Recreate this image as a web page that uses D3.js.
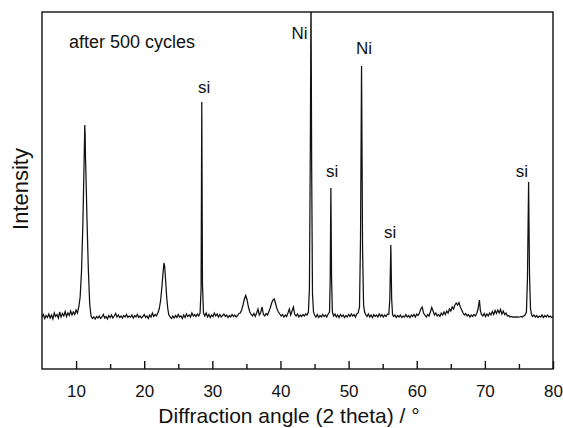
<!DOCTYPE html>
<html>
<head>
<meta charset="utf-8">
<script src="https://cdn.jsdelivr.net/npm/d3@7"></script>
<style>
  body { margin: 0; background: #fff; }
  text { font-family: "Liberation Sans", Arial, Helvetica, sans-serif; fill: #111; }
</style>
</head>
<body>
<div id="chart"></div>
<script>
// XRD pattern: [2 theta in degrees, counts]
const pattern = [
  [5.0,520],[5.2,545],[5.4,505],[5.6,535],[5.8,515],[6.0,550],[6.2,510],[6.4,540],[6.6,500],[6.8,560],
  [7.0,525],[7.2,545],[7.4,510],[7.6,570],[7.8,520],[8.0,555],[8.2,530],[8.4,575],[8.6,525],[8.8,560],
  [9.0,535],[9.2,580],[9.4,540],[9.6,570],[9.8,545],[10.0,590],[10.2,560],
  [10.4,620],[10.6,720],[10.8,980],[11.0,1450],[11.1,1800],[11.2,2150],[11.28,2440],[11.33,2350],
  [11.38,2120],[11.45,1950],[11.6,1500],[11.8,1000],[12.0,650],[12.2,530],
  [12.4,505],[12.6,520],[12.8,500],[13.0,525],[13.2,510],[13.4,530],[13.6,505],[13.8,520],[14.0,545],
  [14.2,510],[14.4,525],[14.6,500],[14.8,535],[15.0,515],[15.2,540],[15.4,510],[15.6,530],[15.8,555],
  [16.0,520],[16.2,540],[16.4,515],[16.6,530],[16.8,510],[17.0,535],[17.2,520],[17.4,545],[17.6,515],
  [17.8,530],[18.0,520],[18.2,540],[18.4,510],[18.6,535],[18.8,520],[19.0,545],[19.2,515],[19.4,530],
  [19.6,510],[19.8,525],[20.0,545],[20.2,515],[20.4,530],[20.6,505],[20.8,540],[21.0,520],[21.2,560],
  [21.4,525],[21.6,545],[21.8,530],
  [22.0,560],[22.2,600],[22.4,680],[22.6,820],[22.75,950],[22.9,1060],[23.0,1030],[23.15,880],
  [23.3,720],[23.45,610],[23.6,545],
  [23.8,520],[24.0,505],[24.2,530],[24.4,510],[24.6,535],[24.8,515],[25.0,545],[25.2,520],[25.4,530],
  [25.6,505],[25.8,540],[26.0,515],[26.2,550],[26.4,525],[26.6,540],[26.8,520],[27.0,560],[27.2,530],
  [27.4,545],[27.6,525],[27.8,550],[28.0,530],[28.2,560],
  [28.35,800],[28.45,2670],[28.55,850],[28.7,560],
  [28.9,530],[29.1,560],[29.3,520],[29.5,545],[29.7,515],[29.9,540],[30.1,525],[30.3,560],[30.5,530],
  [30.7,550],[30.9,520],[31.1,545],[31.3,520],[31.5,535],[31.7,550],[31.9,525],[32.1,540],[32.3,515],
  [32.5,535],[32.7,520],[32.9,545],[33.1,525],[33.3,540],[33.5,520],[33.7,535],[33.9,555],
  [34.1,560],[34.3,590],[34.5,640],[34.7,700],[34.9,735],[35.1,690],[35.3,620],[35.5,570],[35.7,545],
  [35.9,530],[36.1,555],[36.3,525],[36.5,560],[36.7,600],[36.9,540],[37.1,565],[37.3,620],[37.5,545],
  [37.7,530],[37.9,555],[38.1,540],[38.3,575],[38.5,610],[38.7,660],[38.9,690],[39.1,700],[39.3,650],
  [39.5,600],[39.7,570],[39.9,550],[40.1,530],[40.3,545],[40.5,520],[40.7,540],[40.9,525],[41.1,560],
  [41.3,600],[41.5,540],[41.7,580],[41.9,620],[42.1,545],[42.3,530],[42.5,550],[42.7,520],[42.9,540],
  [43.1,525],[43.3,545],[43.5,530],[43.7,550],[43.9,540],[44.1,570],
  [44.25,800],[44.4,2400],[44.48,3800],[44.58,2000],[44.7,750],[44.85,570],
  [45.0,540],[45.2,520],[45.4,545],[45.6,515],[45.8,535],[46.0,520],[46.2,545],[46.4,525],[46.6,540],
  [46.8,520],[47.0,550],[47.2,570],
  [47.3,900],[47.4,1810],[47.5,900],[47.62,570],
  [47.8,530],[48.0,550],[48.2,520],[48.4,540],[48.6,515],[48.8,545],[49.0,525],[49.2,540],[49.4,515],
  [49.6,535],[49.8,520],[50.0,545],[50.2,525],[50.4,550],[50.6,530],[50.8,545],[51.0,520],[51.2,550],
  [51.4,560],[51.6,620],
  [51.75,1300],[51.9,3030],[52.05,1200],[52.2,640],[52.35,570],
  [52.5,545],[52.7,525],[52.9,550],[53.1,520],[53.3,540],[53.5,515],[53.7,545],[53.9,525],[54.1,540],
  [54.3,520],[54.5,550],[54.7,525],[54.9,545],[55.1,520],[55.3,540],[55.5,525],[55.7,550],[55.9,545],
  [56.05,700],[56.2,1240],[56.32,700],[56.45,545],
  [56.6,525],[56.8,540],[57.0,515],[57.2,535],[57.4,520],[57.6,540],[57.8,515],[58.0,530],[58.2,520],
  [58.4,545],[58.6,520],[58.8,535],[59.0,515],[59.2,540],[59.4,525],[59.6,545],[59.8,520],[60.0,550],
  [60.2,535],[60.4,560],[60.6,600],[60.8,620],[61.0,560],[61.2,540],[61.4,520],[61.6,545],[61.8,530],
  [62.0,570],[62.2,615],[62.4,580],[62.6,540],[62.8,560],[63.0,530],[63.2,545],[63.4,525],[63.6,560],
  [63.8,540],[64.0,570],[64.2,545],[64.4,580],[64.6,560],[64.8,600],[65.0,580],[65.2,620],[65.4,600],
  [65.6,640],[65.8,660],[66.0,640],[66.2,665],[66.4,620],[66.6,590],[66.8,560],[67.0,540],[67.2,555],
  [67.4,530],[67.6,545],[67.8,520],[68.0,540],[68.2,525],[68.4,545],[68.6,530],[68.8,555],[69.0,600],
  [69.2,690],[69.35,580],[69.5,545],[69.7,530],[69.9,555],[70.1,525],[70.3,550],[70.5,530],[70.7,560],
  [70.9,540],[71.1,575],[71.3,545],[71.5,585],[71.7,555],[71.9,590],[72.1,560],[72.3,595],[72.5,550],
  [72.7,580],[72.9,545],[73.1,560],[73.3,530],[73.5,535],[73.7,520],[73.9,525],[74.1,520],[74.3,522],
  [74.5,518],[74.7,522],[74.9,518],[75.1,520],[75.3,525],[75.5,520],[75.7,530],[75.9,540],[76.1,570],
  [76.25,900],[76.42,1870],[76.55,950],[76.7,600],[76.85,545],
  [77.0,525],[77.2,540],[77.4,520],[77.6,535],[77.8,515],[78.0,530],[78.2,520],[78.4,540],[78.6,515],
  [78.8,535],[79.0,520],[79.2,540],[79.4,520],[79.6,530],[79.8,515],[80.0,525]
];

// peak labels: text, angle and count of the label baseline
const peakLabels = ["si", "Ni", "si", "Ni", "si", "si"];
const labelAngles = [28.78, 42.8, 47.57, 52.26, 56.08, 75.45];
const labelCounts = [2760, 3300, 1920, 3150, 1310, 1920];

const majorTicks = [10, 20, 30, 40, 50, 60, 70, 80];
const minorTicks = [15, 25, 35, 45, 55, 65, 75];
const xDomain = [5, 80];
const yDomain = [0, 3570];

const margin = { top: 12, right: 10, bottom: 59, left: 42 },
    width = 563 - margin.left - margin.right,
    height = 428 - margin.top - margin.bottom;

const svg = d3.select("#chart")
    .append("svg")
    .attr("width", width + margin.left + margin.right)
    .attr("height", height + margin.top + margin.bottom)
    .append("g")
    .attr("transform", `translate(${margin.left},${margin.top})`);

const xScale = d3.scaleLinear().domain(xDomain).range([0, width]);
const yScale = d3.scaleLinear().domain(yDomain).range([height, 0]);

svg.append("clipPath")
    .attr("id", "plot-clip")
    .append("rect")
    .attr("width", width)
    .attr("height", height);

// Pattern line
const line = d3.line()
    .x(d => xScale(d[0]))
    .y(d => yScale(d[1]));

svg.append("path")
    .datum(pattern)
    .attr("clip-path", "url(#plot-clip)")
    .attr("fill", "none")
    .attr("stroke", "#111")
    .attr("stroke-width", 1.25)
    .attr("d", line);

// Bottom axis with inward ticks
const xAxis = d3.axisBottom(xScale)
    .tickValues(majorTicks)
    .tickSizeInner(-8)
    .tickSizeOuter(0)
    .tickPadding(16)
    .tickFormat(d3.format("d"));

const gx = svg.append("g")
    .attr("transform", `translate(0,${height})`)
    .call(xAxis);
gx.select(".domain").remove();
gx.selectAll(".tick line").attr("stroke", "#111").attr("stroke-width", 1.4);
gx.selectAll(".tick text")
    .attr("font-size", 17)
    .attr("font-family", "Liberation Sans, Arial, sans-serif")
    .attr("fill", "#111");

const xMinor = d3.axisBottom(xScale)
    .tickValues(minorTicks)
    .tickSizeInner(-5)
    .tickSizeOuter(0)
    .tickFormat("");
const gxm = svg.append("g")
    .attr("transform", `translate(0,${height})`)
    .call(xMinor);
gxm.select(".domain").remove();
gxm.selectAll(".tick line").attr("stroke", "#111").attr("stroke-width", 1.4);

// Frame
svg.append("rect")
    .attr("width", width)
    .attr("height", height)
    .attr("fill", "none")
    .attr("stroke", "#111")
    .attr("stroke-width", 1.4);

// Peak labels
svg.selectAll(".peak-label")
    .data(peakLabels)
    .enter().append("text")
    .attr("class", "peak-label")
    .attr("text-anchor", "middle")
    .attr("x", (d, i) => xScale(labelAngles[i]))
    .attr("y", (d, i) => yScale(labelCounts[i]))
    .attr("font-size", 17)
    .text(d => d);

svg.append("text")
    .attr("x", 27)
    .attr("y", 36)
    .attr("font-size", 18)
    .text("after 500 cycles");

// Axis labels
svg.append("text")
    .attr("class", "x-label")
    .attr("text-anchor", "middle")
    .attr("x", 247)
    .attr("y", height + 54)
    .attr("font-size", 21)
    .text("Diffraction angle (2 theta) / °");

svg.append("text")
    .attr("class", "y-label")
    .attr("text-anchor", "middle")
    .attr("transform", "rotate(-90)")
    .attr("x", -(189 - margin.top))
    .attr("y", -14)
    .attr("font-size", 22)
    .text("Intensity");
</script>
</body>
</html>
